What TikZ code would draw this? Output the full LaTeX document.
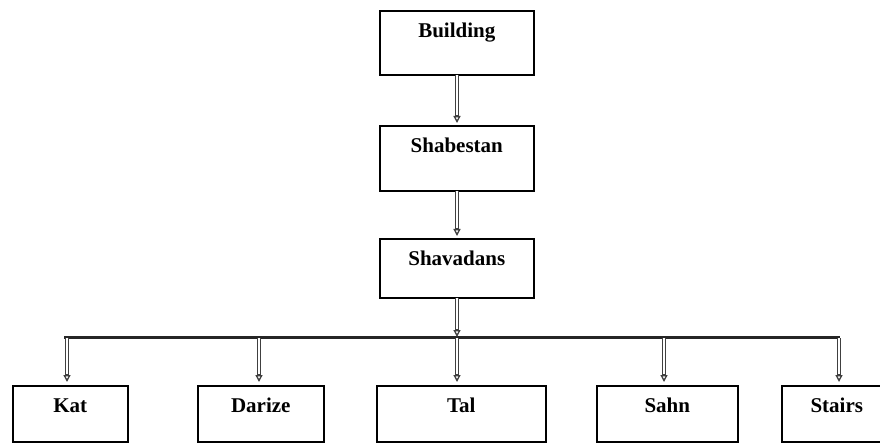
\documentclass[tikz,border=0pt]{standalone}
\usepackage{fontspec}
\setmainfont{Liberation Serif}
\usetikzlibrary{arrows.meta,calc}
\begin{document}
\begin{tikzpicture}[x=1pt,y=-1pt,
  box/.style={draw=black, line width=1.6pt, inner sep=0pt, anchor=north west,
    font=\fontsize{21}{25}\selectfont\bfseries, text height=27pt},
  shaft/.style={draw=black!75, line width=1.5pt, double=white, double distance=1.6pt,
    shorten >=6pt},
  tip/.style={draw=black!75, line width=1.3pt, -{Triangle[open,length=7pt,width=7pt]}},
  bus/.style={draw=black!85, line width=3pt}]
\useasboundingbox (0,0) rectangle (880,443);
\fill[white] (0,0) rectangle (880,443);
% top column
\node[box, minimum width=154pt, text depth=37pt] (bld) at (379,10) {Building};
\node[box, minimum width=154pt, text depth=38pt] (shb) at (379,125) {Shabestan};
\node[box, minimum width=154pt, text depth=32pt] (shv) at (379,238) {Shavadans};
% bottom row
\node[box, minimum width=115pt, text depth=29pt] (kat) at (12,385) {Kat};
\node[box, minimum width=126pt, text depth=29pt] (dar) at (197,385) {Darize};
\node[box, minimum width=169pt, text depth=29pt] (tal) at (376,385) {Tal};
\node[box, minimum width=141pt, text depth=29pt] (sah) at (596,385) {Sahn};
\node[box, minimum width=110pt, text depth=29pt] (sta) at (781,385) {Stairs};
% bus
\coordinate (busL) at (64,337);
\coordinate (busR) at (840,337);
\coordinate (busM) at (457,337);
\draw[bus] (busL) -- (busR);
% vertical arrow end points
\coordinate (a1s) at (457,75);  \coordinate (a1e) at (457,123);
\coordinate (a2s) at (457,191); \coordinate (a2e) at (457,236);
\coordinate (a3s) at (457,298); \coordinate (a3e) at (457,337);
\coordinate (k) at (67,338);  \coordinate (ke) at (67,382);
\coordinate (d) at (259,338); \coordinate (de) at (259,382);
\coordinate (m) at (457,338); \coordinate (me) at (457,382);
\coordinate (s) at (664,338); \coordinate (se) at (664,382);
\coordinate (t) at (839,338); \coordinate (te) at (839,382);
\foreach \a/\b in {a1s/a1e,a2s/a2e,a3s/a3e,k/ke,d/de,m/me,s/se,t/te}{
  \draw[shaft] (\a) -- (\b);
  \draw[tip] ($(\b)+(0,-8)$) -- (\b);
}
\end{tikzpicture}
\end{document}
